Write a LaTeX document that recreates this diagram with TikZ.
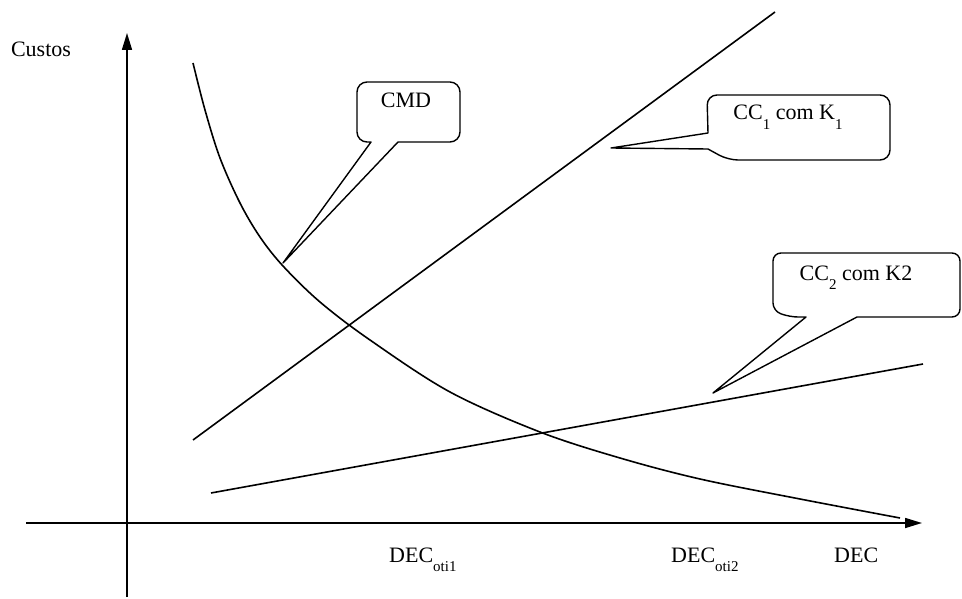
\documentclass[tikz,border=0pt]{standalone}
\usepackage{fontspec}
\setmainfont{Liberation Serif}
\usetikzlibrary{arrows.meta}
\newcommand{\lowsub}[1]{\raisebox{-0.42em}{\fontsize{15}{15}\selectfont #1}}
\begin{document}
\begin{tikzpicture}[x=1pt,y=-1pt,
  curve/.style={line width=1.6pt},
  axis/.style={line width=1.6pt,-{Triangle[length=17pt,width=10pt]}},
  callout/.style={line width=1.4pt,line join=round},
  lbl/.style={inner sep=0pt,font=\fontsize{22}{25}\selectfont}]
\useasboundingbox (0,0) rectangle (962,599);

% axes
\coordinate (ybot) at (127,597);
\coordinate (ytop) at (127,33);
\coordinate (xleft) at (26,523);
\coordinate (xright) at (922,523);
\draw[axis] (ybot) -- (ytop);
\draw[axis] (xleft) -- (xright);

% cost lines
\coordinate (cc1a) at (193,440);
\coordinate (cc1b) at (775,12);
\coordinate (cc2a) at (211,493);
\coordinate (cc2b) at (923,364);
\draw[curve] (cc1a) -- (cc1b);
\draw[curve] (cc2a) -- (cc2b);

% CMD curve
\draw[curve] plot[smooth,tension=0.55] coordinates {
  (193,63) (205,110) (220,158) (240,203) (260,237) (283,266)
  (320,302) (370,340) (450,392) (540,432) (620,458) (700,479)
  (800,499) (900,518)};

% callouts
\draw[callout] (283,263) -- (371,142)
  [rounded corners=10pt] -- (357,142) -- (357,82) -- (460,82) -- (460,142)
  [sharp corners] -- (398,142) -- cycle;
\draw[callout] (611,148) -- (708,133)
  [rounded corners=10pt] -- (707,95) -- (890,95) -- (890,160) -- (728,160)
  [sharp corners] -- (708,149) -- cycle;
\draw[callout] (713,393) -- (806,317)
  [rounded corners=8pt] -- (790,317) -- (773,311) -- (773,253) -- (960,253)
  -- (960,317) [sharp corners] -- (857,317) -- cycle;

% texts
\node[lbl] (custos) at (41,49) {Custos};
\node[lbl] (cmd) at (406,100) {CMD};
\node[lbl,anchor=base] (cc1) at (788,120) {CC\lowsub{1} com K\lowsub{1}};
\node[lbl,anchor=base] (cc2) at (856,280) {CC\lowsub{2} com K2};
\node[lbl,anchor=base west] (oti1) at (389,562) {DEC\lowsub{oti1}};
\node[lbl,anchor=base west] (oti2) at (671,562) {DEC\lowsub{oti2}};
\node[lbl,anchor=base west] (dec) at (834,562) {DEC};
\end{tikzpicture}
\end{document}
